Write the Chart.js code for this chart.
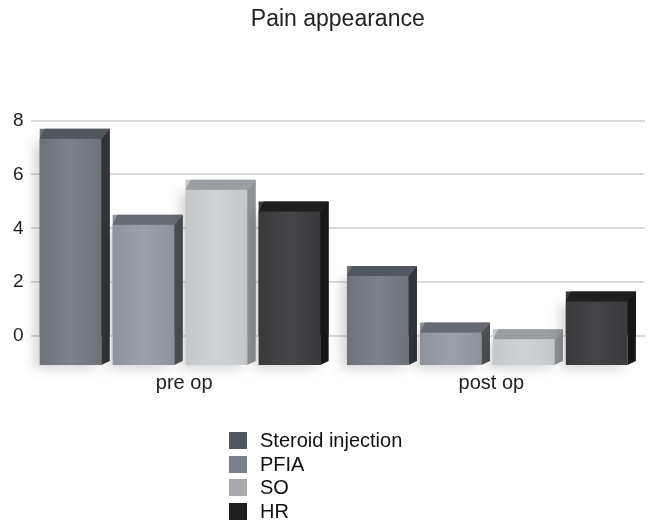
<!DOCTYPE html>
<html>
<head>
<meta charset="utf-8">
<script src="https://cdn.jsdelivr.net/npm/chart.js@4/dist/chart.umd.min.js"></script>
<style>
  html, body { margin: 0; padding: 0; background: #fff; }
  #wrap { position: relative; width: 661px; height: 522px; }
  #legend { position: absolute; left: 229px; top: 429px; font-family: "Liberation Sans", Arial, sans-serif; font-size: 20px; color: #111; }
  #legend div { height: 23.5px; display: flex; align-items: center; }
  #legend span.box { display: inline-block; width: 18px; height: 17px; margin-right: 13px; }
</style>
</head>
<body>
<div id="wrap">
  <canvas id="c" width="661" height="522"></canvas>
  <div id="legend"></div>
</div>
<script>
const categories = ["pre op", "post op"];
const seriesNames = ["Steroid injection", "PFIA", "SO", "HR"];
const steroidInjection = [7.7, 2.6];
const pfia = [4.5, 0.5];
const so = [5.8, 0.25];
const hr = [5.0, 1.65];
const yTicks = [0, 2, 4, 6, 8];

const frontColors = ["#6c737b", "#8c939c", "#c4c8cb", "#3a3a3c"];
const frontLight = ["#7b828a", "#9ba1a9", "#d0d3d6", "#444446"];
const topColors = ["#50575f", "#646b73", "#9a9ea2", "#1e1e1f"];
const sideColors = ["#30353a", "#4b5056", "#8e9296", "#161617"];
const legendColors = ["#4f565f", "#7b818a", "#a6aaae", "#1f1f20"];

const values = [steroidInjection, pfia, so, hr];
const FLOOR = 30;

const bar3d = {
  id: 'bar3d',
  afterDatasetsDraw(chart) {
    const ctx = chart.ctx;
    chart.data.datasets.forEach((ds, di) => {
      const meta = chart.getDatasetMeta(di);
      meta.data.forEach((el) => {
        const { x, y, base, width } = el.getProps(['x', 'y', 'base', 'width'], true);
        const left = x - width / 2, right = x + width / 2;
        const bottom = base + FLOOR;
        const total = bottom - y;
        const topH = Math.min(10, total * 0.3);
        const sideW = Math.min(9, width * 0.12);
        ctx.save();
        ctx.shadowColor = 'rgba(0,0,0,0.18)';
        ctx.shadowBlur = 12;
        ctx.shadowOffsetX = -5;
        ctx.shadowOffsetY = 3;
        const g = ctx.createLinearGradient(left, 0, right - sideW, 0);
        g.addColorStop(0, frontColors[di]);
        g.addColorStop(0.5, frontLight[di]);
        g.addColorStop(1, frontColors[di]);
        ctx.fillStyle = g;
        ctx.fillRect(left, y + topH, width - sideW, bottom - y - topH);
        ctx.shadowColor = 'transparent';
        ctx.fillStyle = sideColors[di];
        ctx.beginPath();
        ctx.moveTo(right - sideW, y + topH);
        ctx.lineTo(right, y);
        ctx.lineTo(right, bottom - 4);
        ctx.lineTo(right - sideW, bottom);
        ctx.closePath();
        ctx.fill();
        ctx.fillStyle = topColors[di];
        ctx.beginPath();
        ctx.moveTo(left, y + topH);
        ctx.lineTo(left + 5, y);
        ctx.lineTo(right, y);
        ctx.lineTo(right - sideW, y + topH);
        ctx.closePath();
        ctx.fill();
        ctx.restore();
      });
    });
  }
};

new Chart(document.getElementById('c'), {
  type: 'bar',
  data: {
    labels: categories,
    datasets: seriesNames.map((n, i) => ({
      label: n,
      data: values[i],
      backgroundColor: frontColors[i],
      borderWidth: 0,
      categoryPercentage: 0.95,
      barPercentage: 0.96
    }))
  },
  options: {
    responsive: false,
    animation: false,
    layout: { padding: { left: 6, right: 16, top: 0, bottom: 100 } },
    plugins: {
      legend: { display: false },
      tooltip: { enabled: false },
      title: {
        display: true,
        fullSize: false,
        text: 'Pain appearance',
        color: '#222',
        font: { family: '"Liberation Sans", Arial, sans-serif', size: 23, weight: 'normal' },
        padding: { top: 6, bottom: 87 }
      }
    },
    scales: {
      x: {
        grid: { display: false },
        border: { display: false },
        ticks: { color: '#222', padding: 27, font: { family: '"Liberation Sans", Arial, sans-serif', size: 20 } }
      },
      y: {
        min: 0, max: 8,
        afterBuildTicks(axis) { axis.ticks = yTicks.map(v => ({ value: v })); },
        grid: { color: '#d9d9d9', lineWidth: 2, drawTicks: false },
        border: { display: false },
        ticks: { color: '#222', padding: 7, font: { family: '"Liberation Sans", Arial, sans-serif', size: 19 } }
      }
    }
  },
  plugins: [bar3d]
});

const lg = document.getElementById('legend');
seriesNames.forEach((n, i) => {
  const d = document.createElement('div');
  d.innerHTML = '<span class="box" style="background:' + legendColors[i] + '"></span>' + n;
  lg.appendChild(d);
});
</script>
</body>
</html>
